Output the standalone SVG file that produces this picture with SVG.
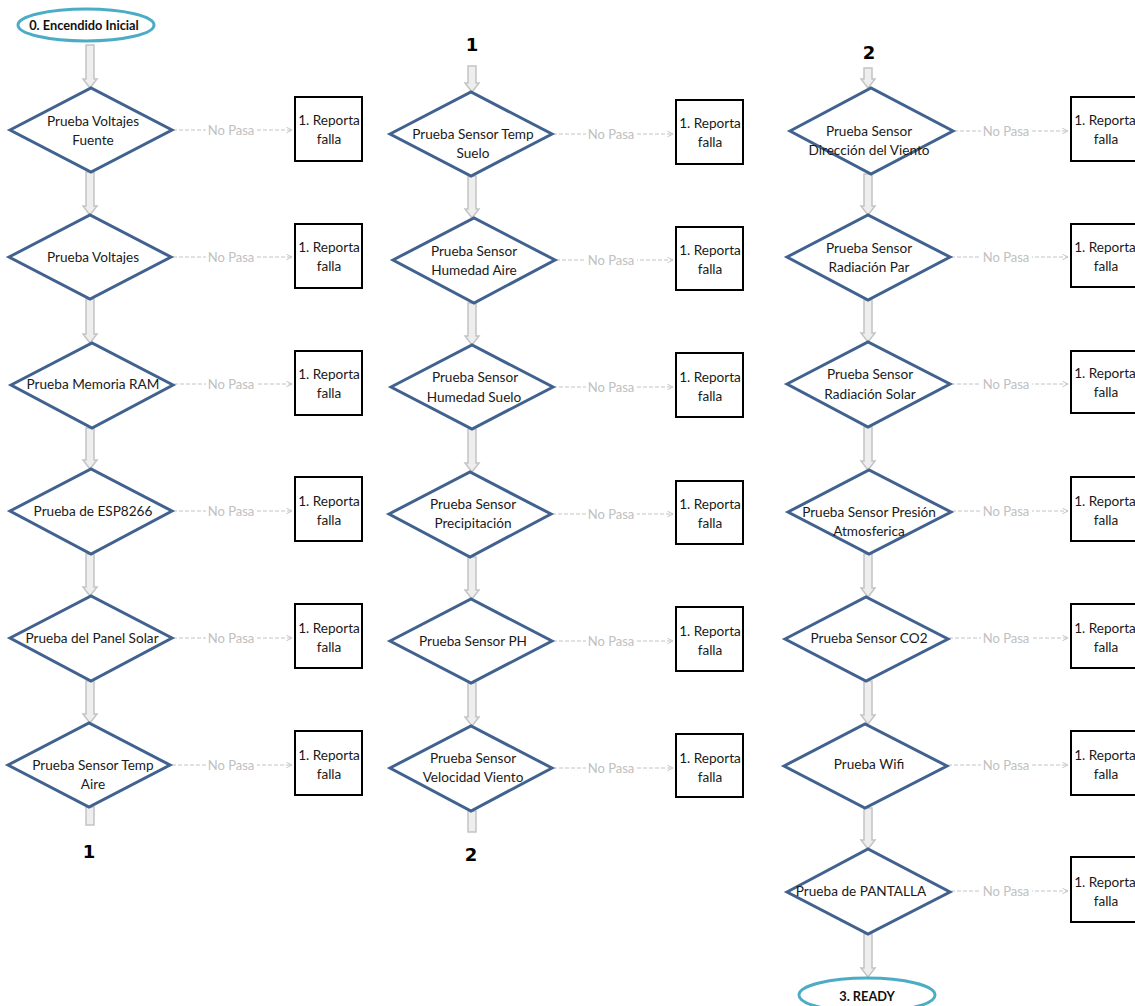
<svg xmlns="http://www.w3.org/2000/svg" width="1135" height="1006" viewBox="0 0 1135 1006">
<defs>
<style>
.dia{fill:#fff;stroke:#41628f;stroke-width:3;stroke-linejoin:miter}
.box{fill:#fff;stroke:#000;stroke-width:2}
.term{fill:#fff;stroke:#4bacc6;stroke-width:3}
.t{font-family:Lato,"Liberation Sans",sans-serif;font-size:13.6px;fill:#1a1a1a;text-anchor:middle;dominant-baseline:central}
.tb{font-family:Lato,"Liberation Sans",sans-serif;font-size:12.8px;font-weight:bold;fill:#111;text-anchor:middle;dominant-baseline:central}
.num{font-family:"DejaVu Sans",sans-serif;font-size:18px;font-weight:bold;fill:#000;text-anchor:middle;dominant-baseline:central}
.blk{fill:#eeeeee;stroke:#c4c4c4;stroke-width:1.5}
.dash{stroke:#c4c4c4;stroke-width:1;stroke-dasharray:4,2;fill:none}
.np{font-family:Lato,"Liberation Sans",sans-serif;font-size:13px;fill:#c0c0c0;text-anchor:middle;dominant-baseline:central}
.lb{fill:#fff}
</style>
<marker id="chev" viewBox="0 0 10 10" refX="9" refY="5" markerWidth="7" markerHeight="7" orient="auto" markerUnits="userSpaceOnUse">
<path d="M1,1 L9,5 L1,9" fill="none" stroke="#c0c0c0" stroke-width="1.3"/>
</marker>
</defs>
<rect width="1135" height="1006" fill="#fff"/>

<g id="connectors">
<!-- block arrows column 1 -->
<path class="blk" d="M86,45 H94 V79 H97 L90,88 L83,79 H86 Z"/>
<path class="blk" d="M86,172 H94 V206 H97 L90,215 L83,206 H86 Z"/>
<path class="blk" d="M86,299 H94 V334 H97 L90,343 L83,334 H86 Z"/>
<path class="blk" d="M86,428 H94 V460 H97 L90,469 L83,460 H86 Z"/>
<path class="blk" d="M86,554 H94 V587 H97 L90,596 L83,587 H86 Z"/>
<path class="blk" d="M86,681 H94 V714 H97 L90,723 L83,714 H86 Z"/>
<path class="blk" d="M86,807 H94 V825 H86 Z"/>
<!-- block arrows column 2 -->
<path class="blk" d="M468,66 H476 V83 H479 L472,92 L465,83 H468 Z"/>
<path class="blk" d="M468,176 H476 V209 H479 L472,218 L465,209 H468 Z"/>
<path class="blk" d="M468,303 H476 V336 H479 L472,345 L465,336 H468 Z"/>
<path class="blk" d="M468,429 H476 V463 H479 L472,472 L465,463 H468 Z"/>
<path class="blk" d="M468,557 H476 V590 H479 L472,599 L465,590 H468 Z"/>
<path class="blk" d="M468,683 H476 V717 H479 L472,726 L465,717 H468 Z"/>
<path class="blk" d="M468,811 H476 V832 H468 Z"/>
<!-- block arrows column 3 -->
<path class="blk" d="M864,68 H872 V79 H875 L868,88 L861,79 H864 Z"/>
<path class="blk" d="M864,174 H872 V206 H875 L868,215 L861,206 H864 Z"/>
<path class="blk" d="M864,300 H872 V333 H875 L868,342 L861,333 H864 Z"/>
<path class="blk" d="M864,427 H872 V461 H875 L868,470 L861,461 H864 Z"/>
<path class="blk" d="M864,554 H872 V588 H875 L868,597 L861,588 H864 Z"/>
<path class="blk" d="M864,681 H872 V715 H875 L868,724 L861,715 H864 Z"/>
<path class="blk" d="M864,808 H872 V840 H875 L868,849 L861,840 H864 Z"/>
<path class="blk" d="M864,934 H872 V968 H875 L868,977 L861,968 H864 Z"/>

<!-- No Pasa connectors column 1 -->
<g>
<line class="dash" x1="173" y1="130" x2="292" y2="130" marker-end="url(#chev)"/>
<line class="dash" x1="173" y1="257" x2="292" y2="257" marker-end="url(#chev)"/>
<line class="dash" x1="174" y1="384" x2="292" y2="384" marker-end="url(#chev)"/>
<line class="dash" x1="173" y1="511" x2="292" y2="511" marker-end="url(#chev)"/>
<line class="dash" x1="173" y1="638" x2="292" y2="638" marker-end="url(#chev)"/>
<line class="dash" x1="172" y1="765" x2="292" y2="765" marker-end="url(#chev)"/>
<rect class="lb" x="206" y="122" width="51" height="16"/>
<rect class="lb" x="206" y="249" width="51" height="16"/>
<rect class="lb" x="206" y="376" width="51" height="16"/>
<rect class="lb" x="206" y="503" width="51" height="16"/>
<rect class="lb" x="206" y="630" width="51" height="16"/>
<rect class="lb" x="206" y="757" width="51" height="16"/>
<text class="np" x="231" y="130">No Pasa</text>
<text class="np" x="231" y="257">No Pasa</text>
<text class="np" x="231" y="384">No Pasa</text>
<text class="np" x="231" y="511">No Pasa</text>
<text class="np" x="231" y="638">No Pasa</text>
<text class="np" x="231" y="765">No Pasa</text>
</g>
<!-- No Pasa connectors column 2 -->
<g>
<line class="dash" x1="553" y1="134" x2="673" y2="134" marker-end="url(#chev)"/>
<line class="dash" x1="556" y1="260" x2="673" y2="260" marker-end="url(#chev)"/>
<line class="dash" x1="553" y1="387" x2="673" y2="387" marker-end="url(#chev)"/>
<line class="dash" x1="552" y1="514" x2="673" y2="514" marker-end="url(#chev)"/>
<line class="dash" x1="553" y1="641" x2="673" y2="641" marker-end="url(#chev)"/>
<line class="dash" x1="553" y1="768" x2="673" y2="768" marker-end="url(#chev)"/>
<rect class="lb" x="586" y="126" width="51" height="16"/>
<rect class="lb" x="586" y="252" width="51" height="16"/>
<rect class="lb" x="586" y="379" width="51" height="16"/>
<rect class="lb" x="586" y="506" width="51" height="16"/>
<rect class="lb" x="586" y="633" width="51" height="16"/>
<rect class="lb" x="586" y="760" width="51" height="16"/>
<text class="np" x="611" y="134">No Pasa</text>
<text class="np" x="611" y="260">No Pasa</text>
<text class="np" x="611" y="387">No Pasa</text>
<text class="np" x="611" y="514">No Pasa</text>
<text class="np" x="611" y="641">No Pasa</text>
<text class="np" x="611" y="768">No Pasa</text>
</g>
<!-- No Pasa connectors column 3 -->
<g>
<line class="dash" x1="954" y1="131" x2="1068" y2="131" marker-end="url(#chev)"/>
<line class="dash" x1="951" y1="257" x2="1068" y2="257" marker-end="url(#chev)"/>
<line class="dash" x1="951" y1="384" x2="1068" y2="384" marker-end="url(#chev)"/>
<line class="dash" x1="952" y1="511" x2="1068" y2="511" marker-end="url(#chev)"/>
<line class="dash" x1="949" y1="638" x2="1068" y2="638" marker-end="url(#chev)"/>
<line class="dash" x1="948" y1="765" x2="1068" y2="765" marker-end="url(#chev)"/>
<line class="dash" x1="951" y1="891" x2="1068" y2="891" marker-end="url(#chev)"/>
<rect class="lb" x="981" y="123" width="51" height="16"/>
<rect class="lb" x="981" y="249" width="51" height="16"/>
<rect class="lb" x="981" y="376" width="51" height="16"/>
<rect class="lb" x="981" y="503" width="51" height="16"/>
<rect class="lb" x="981" y="630" width="51" height="16"/>
<rect class="lb" x="981" y="757" width="51" height="16"/>
<rect class="lb" x="981" y="883" width="51" height="16"/>
<text class="np" x="1006" y="131">No Pasa</text>
<text class="np" x="1006" y="257">No Pasa</text>
<text class="np" x="1006" y="384">No Pasa</text>
<text class="np" x="1006" y="511">No Pasa</text>
<text class="np" x="1006" y="638">No Pasa</text>
<text class="np" x="1006" y="765">No Pasa</text>
<text class="np" x="1006" y="891">No Pasa</text>
</g>
</g>

<!-- Off-page labels -->
<g id="lbl-1-bottom"><text class="num" x="89" y="851">1</text></g>
<g id="lbl-1-top"><text class="num" x="472" y="44">1</text></g>
<g id="lbl-2-bottom"><text class="num" x="471" y="854">2</text></g>
<g id="lbl-2-top"><text class="num" x="869" y="52">2</text></g>

<!-- Terminals -->
<g id="start"><ellipse class="term" cx="86" cy="25" rx="68" ry="16"/><text class="tb" x="84" y="25">0. Encendido Inicial</text></g>
<g id="ready"><ellipse class="term" cx="867" cy="995" rx="68" ry="17"/><text class="tb" x="867" y="996">3. READY</text></g>

<!-- Column 1 -->
<g id="c1r1"><polygon class="dia" points="10,130 91,88 172,130 91,172"/><text class="t" x="93" y="121">Prueba Voltajes</text><text class="t" x="93" y="140">Fuente</text></g>
<g id="c1r2"><polygon class="dia" points="9,257 90,215 171,257 90,299"/><text class="t" x="93" y="257">Prueba Voltajes</text></g>
<g id="c1r3"><polygon class="dia" points="11,385 92,343 173,385 92,428"/><text class="t" x="93" y="384">Prueba Memoria RAM</text></g>
<g id="c1r4"><polygon class="dia" points="10,511 91,469 172,511 91,554"/><text class="t" x="93" y="511">Prueba de ESP8266</text></g>
<g id="c1r5"><polygon class="dia" points="10,638 91,596 172,638 91,681"/><text class="t" x="92" y="638">Prueba del Panel Solar</text></g>
<g id="c1r6"><polygon class="dia" points="8,765 89,723 170,765 89,807"/><text class="t" x="93" y="765">Prueba Sensor Temp</text><text class="t" x="93" y="784">Aire</text></g>

<g id="c1f1"><rect class="box" x="295" y="97" width="67" height="64"/><text class="t" x="329" y="120">1. Reporta</text><text class="t" x="329" y="139">falla</text></g>
<g id="c1f2"><rect class="box" x="295" y="224" width="67" height="64"/><text class="t" x="329" y="247">1. Reporta</text><text class="t" x="329" y="266">falla</text></g>
<g id="c1f3"><rect class="box" x="295" y="351" width="67" height="64"/><text class="t" x="329" y="374">1. Reporta</text><text class="t" x="329" y="393">falla</text></g>
<g id="c1f4"><rect class="box" x="295" y="477" width="67" height="64"/><text class="t" x="329" y="501">1. Reporta</text><text class="t" x="329" y="520">falla</text></g>
<g id="c1f5"><rect class="box" x="295" y="604" width="67" height="64"/><text class="t" x="329" y="628">1. Reporta</text><text class="t" x="329" y="647">falla</text></g>
<g id="c1f6"><rect class="box" x="295" y="731" width="67" height="64"/><text class="t" x="329" y="755">1. Reporta</text><text class="t" x="329" y="774">falla</text></g>

<!-- Column 2 -->
<g id="c2r1"><polygon class="dia" points="390,134 471,92 552,134 471,176"/><text class="t" x="473" y="134">Prueba Sensor Temp</text><text class="t" x="473" y="153">Suelo</text></g>
<g id="c2r2"><polygon class="dia" points="393,260 474,218 555,260 474,303"/><text class="t" x="474" y="251">Prueba Sensor</text><text class="t" x="474" y="270">Humedad Aire</text></g>
<g id="c2r3"><polygon class="dia" points="391,387 472,345 553,387 472,429"/><text class="t" x="475" y="377">Prueba Sensor</text><text class="t" x="474" y="397">Humedad Suelo</text></g>
<g id="c2r4"><polygon class="dia" points="389,514 470,472 551,514 470,557"/><text class="t" x="473" y="504">Prueba Sensor</text><text class="t" x="473" y="523">Precipitación</text></g>
<g id="c2r5"><polygon class="dia" points="390,641 471,599 552,641 471,683"/><text class="t" x="473" y="641">Prueba Sensor PH</text></g>
<g id="c2r6"><polygon class="dia" points="390,768 471,726 552,768 471,811"/><text class="t" x="473" y="758">Prueba Sensor</text><text class="t" x="473" y="777">Velocidad Viento</text></g>

<g id="c2f1"><rect class="box" x="676" y="100" width="67" height="64"/><text class="t" x="710" y="123">1. Reporta</text><text class="t" x="710" y="142">falla</text></g>
<g id="c2f2"><rect class="box" x="676" y="227" width="67" height="63"/><text class="t" x="710" y="250">1. Reporta</text><text class="t" x="710" y="269">falla</text></g>
<g id="c2f3"><rect class="box" x="676" y="353" width="67" height="64"/><text class="t" x="710" y="377">1. Reporta</text><text class="t" x="710" y="396">falla</text></g>
<g id="c2f4"><rect class="box" x="676" y="481" width="67" height="63"/><text class="t" x="710" y="504">1. Reporta</text><text class="t" x="710" y="523">falla</text></g>
<g id="c2f5"><rect class="box" x="676" y="607" width="67" height="64"/><text class="t" x="710" y="631">1. Reporta</text><text class="t" x="710" y="650">falla</text></g>
<g id="c2f6"><rect class="box" x="676" y="734" width="67" height="63"/><text class="t" x="710" y="758">1. Reporta</text><text class="t" x="710" y="777">falla</text></g>

<!-- Column 3 -->
<g id="c3r1"><polygon class="dia" points="790,131 871,88 953,131 871,174"/><text class="t" x="869" y="131">Prueba Sensor</text><text class="t" x="869" y="150">Dirección del  Viento</text></g>
<g id="c3r2"><polygon class="dia" points="787,257 868,215 950,257 868,300"/><text class="t" x="869" y="248">Prueba Sensor</text><text class="t" x="869" y="267">Radiación Par</text></g>
<g id="c3r3"><polygon class="dia" points="787,384 868,342 950,384 868,427"/><text class="t" x="870" y="374">Prueba Sensor</text><text class="t" x="870" y="394">Radiación Solar</text></g>
<g id="c3r4"><polygon class="dia" points="788,512 869,470 951,512 869,554"/><text class="t" x="869" y="512">Prueba Sensor Presión</text><text class="t" x="869" y="531">Atmosferica</text></g>
<g id="c3r5"><polygon class="dia" points="785,639 866,597 948,639 866,681"/><text class="t" x="869" y="638">Prueba Sensor CO2</text></g>
<g id="c3r6"><polygon class="dia" points="784,766 865,724 947,766 865,808"/><text class="t" x="869" y="764">Prueba Wifi</text></g>
<g id="c3r7"><polygon class="dia" points="787,892 868,849 950,892 868,934"/><text class="t" x="861" y="891">Prueba de PANTALLA</text></g>

<g id="c3f1"><rect class="box" x="1071" y="97" width="67" height="64"/><text class="t" x="1105" y="120">1. Reporta</text><text class="t" x="1106" y="139">falla</text></g>
<g id="c3f2"><rect class="box" x="1071" y="224" width="67" height="63"/><text class="t" x="1105" y="247">1. Reporta</text><text class="t" x="1106" y="266">falla</text></g>
<g id="c3f3"><rect class="box" x="1071" y="351" width="67" height="62"/><text class="t" x="1105" y="373">1. Reporta</text><text class="t" x="1106" y="392">falla</text></g>
<g id="c3f4"><rect class="box" x="1071" y="477" width="67" height="64"/><text class="t" x="1105" y="501">1. Reporta</text><text class="t" x="1106" y="520">falla</text></g>
<g id="c3f5"><rect class="box" x="1071" y="604" width="67" height="64"/><text class="t" x="1105" y="628">1. Reporta</text><text class="t" x="1106" y="647">falla</text></g>
<g id="c3f6"><rect class="box" x="1071" y="731" width="67" height="64"/><text class="t" x="1105" y="755">1. Reporta</text><text class="t" x="1106" y="774">falla</text></g>
<g id="c3f7"><rect class="box" x="1071" y="857" width="67" height="65"/><text class="t" x="1105" y="882">1. Reporta</text><text class="t" x="1106" y="901">falla</text></g>
</svg>
